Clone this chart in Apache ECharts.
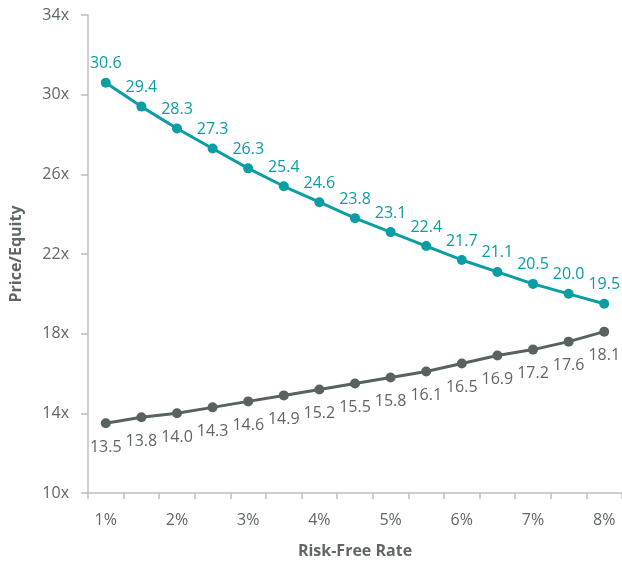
<!DOCTYPE html>
<html>
<head>
<meta charset="utf-8">
<script src="https://cdn.jsdelivr.net/npm/echarts@6/dist/echarts.min.js"></script>
<style>
  html, body { margin: 0; padding: 0; background: #fff; }
  #chart { width: 622px; height: 565px; }
</style>
</head>
<body>
<div id="chart"></div>
<script>
// Risk-free rate steps (percent)
const rates = ['1', '1.5', '2', '2.5', '3', '3.5', '4', '4.5', '5', '5.5', '6', '6.5', '7', '7.5', '8'];
// Price/Equity multiples
const upperPE = [30.6, 29.4, 28.3, 27.3, 26.3, 25.4, 24.6, 23.8, 23.1, 22.4, 21.7, 21.1, 20.5, 20.0, 19.5];
const lowerPE = [13.5, 13.8, 14.0, 14.3, 14.6, 14.9, 15.2, 15.5, 15.8, 16.1, 16.5, 16.9, 17.2, 17.6, 18.1];

const FONT = '"Open Sans", "Noto Sans", sans-serif';
const TEAL = '#0a9da3';
const GREY = '#58625f';
const TEXT = '#5f6664';
const AXIS = '#bfbfbf';

const chart = echarts.init(document.getElementById('chart'));
chart.setOption({
  animation: false,
  grid: { left: 88, right: 0, top: 15, bottom: 72 },
  xAxis: {
    type: 'category',
    data: rates,
    boundaryGap: true,
    name: 'Risk-Free Rate',
    nameLocation: 'middle',
    nameGap: 50,
    nameTextStyle: { fontFamily: FONT, fontSize: 16, fontWeight: 'bold', color: TEXT },
    axisLine: { lineStyle: { color: AXIS, width: 1.5 } },
    axisTick: { show: true, interval: 0, length: 6, lineStyle: { color: AXIS, width: 1.5 } },
    axisLabel: {
      interval: 1,
      margin: 19,
      fontFamily: FONT, fontSize: 16, color: TEXT,
      formatter: v => v + '%'
    },
    splitLine: { show: false }
  },
  yAxis: {
    type: 'value',
    min: 10, max: 34, interval: 4,
    name: 'Price/Equity',
    nameLocation: 'middle',
    nameGap: 64,
    nameTextStyle: { fontFamily: FONT, fontSize: 16, fontWeight: 'bold', color: TEXT },
    axisLine: { show: true, lineStyle: { color: AXIS, width: 1.5 } },
    axisTick: { show: true, length: 7, lineStyle: { color: AXIS, width: 1.5 } },
    axisLabel: { margin: 19, fontFamily: FONT, fontSize: 16, color: TEXT, formatter: '{value}x' },
    splitLine: { show: false }
  },
  series: [
    {
      type: 'line',
      data: upperPE,
      symbol: 'circle',
      symbolSize: 10,
      lineStyle: { color: TEAL, width: 3 },
      itemStyle: { color: TEAL },
      label: {
        show: true, position: 'top', distance: 6,
        fontFamily: FONT, fontSize: 16, color: TEAL,
        formatter: p => p.value.toFixed(1)
      }
    },
    {
      type: 'line',
      data: lowerPE,
      symbol: 'circle',
      symbolSize: 10,
      lineStyle: { color: GREY, width: 3 },
      itemStyle: { color: GREY },
      label: {
        show: true, position: 'bottom', distance: 11,
        fontFamily: FONT, fontSize: 16, color: TEXT,
        formatter: p => p.value.toFixed(1)
      }
    }
  ]
});
</script>
</body>
</html>
